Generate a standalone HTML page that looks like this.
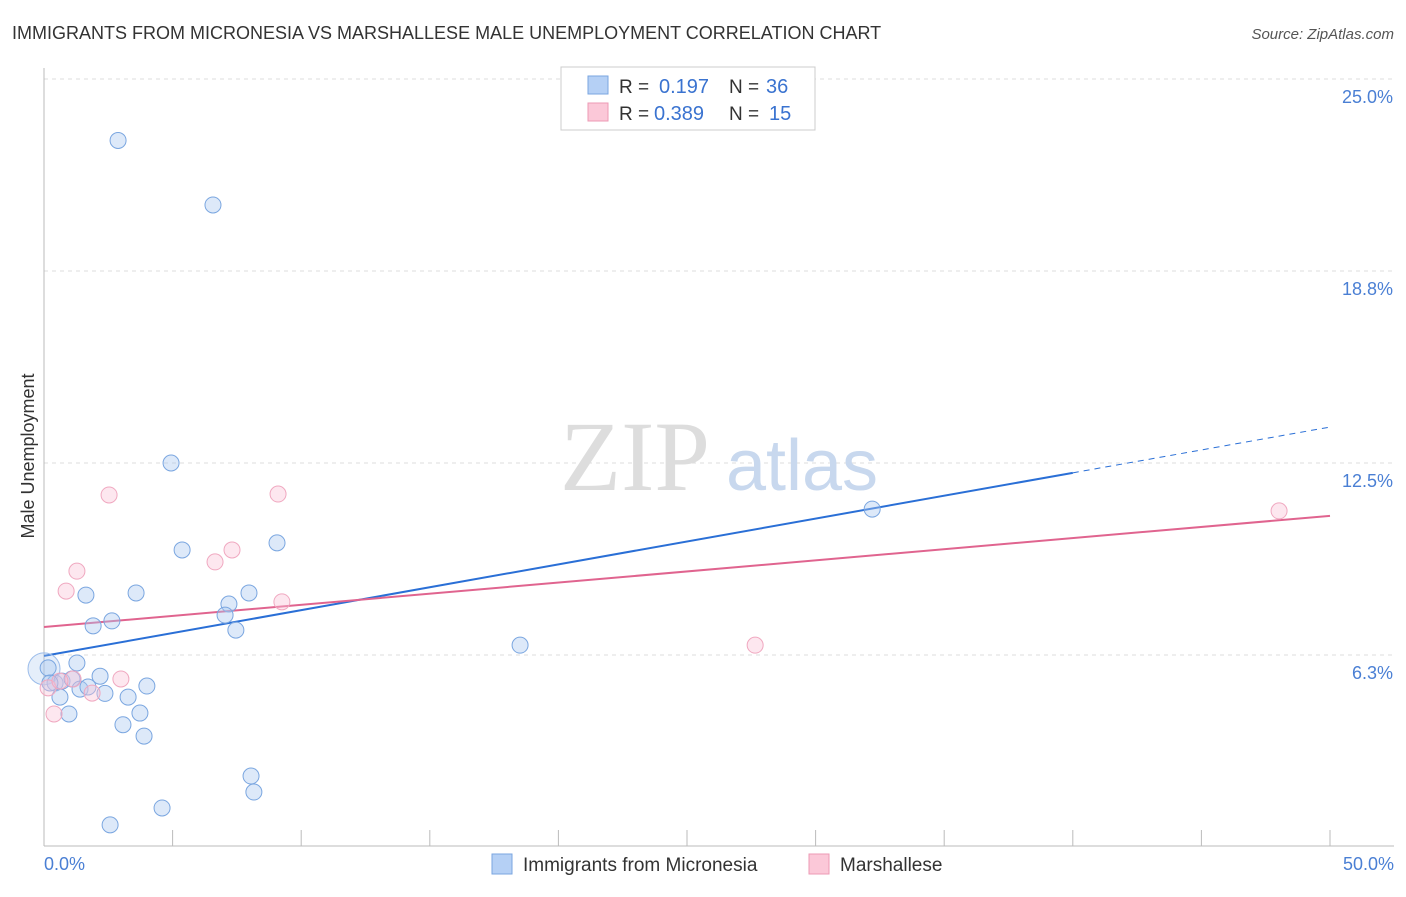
<!DOCTYPE html>
<html><head><meta charset="utf-8"><style>
body{margin:0;background:#fff;font-family:"Liberation Sans",sans-serif}
</style></head><body>
<svg width="1406" height="892" xmlns="http://www.w3.org/2000/svg" font-family="Liberation Sans, sans-serif">
<text x="12" y="39" font-size="18" fill="#333">IMMIGRANTS FROM MICRONESIA VS MARSHALLESE MALE UNEMPLOYMENT CORRELATION CHART</text>
<text x="1394" y="39" font-size="15" fill="#555" font-style="italic" text-anchor="end">Source: ZipAtlas.com</text>
<g id="grid"></g>
<g><text x="635" y="490" font-size="100" fill="#ddd" style="font-family:'Liberation Serif',serif" text-anchor="middle">ZIP</text><text x="802" y="490" font-size="72" fill="#c8d8ee" text-anchor="middle">atlas</text></g>
<line x1="44" y1="68" x2="44" y2="846" stroke="#bbb"/>
<line x1="44" y1="846" x2="1394" y2="846" stroke="#bbb"/>
<text transform="translate(34,456) rotate(-90)" font-size="18" fill="#333" text-anchor="middle">Male Unemployment</text>
<text x="44" y="870" font-size="18" fill="#4a7fd4">0.0%</text>
<text x="1394" y="870" font-size="18" fill="#4a7fd4" text-anchor="end">50.0%</text>
<g id="lines"></g>
<g id="points"></g>
<g>
<rect x="561" y="67" width="254" height="63" fill="#fff" stroke="#ccc"/>
<rect x="588" y="76" width="20" height="18" fill="#b5d0f5" stroke="#7aa6e0"/>
<rect x="588" y="103" width="20" height="18" fill="#fbc8d8" stroke="#ec9ab5"/>
<text x="619" y="93" font-size="19" fill="#333">R =</text>
<text x="659" y="93" font-size="20" fill="#3a73d0">0.197</text>
<text x="729" y="93" font-size="19" fill="#333">N =</text>
<text x="766" y="93" font-size="20" fill="#3a73d0">36</text>
<text x="619" y="120" font-size="19" fill="#333">R =</text>
<text x="654" y="120" font-size="20" fill="#3a73d0">0.389</text>
<text x="729" y="120" font-size="19" fill="#333">N =</text>
<text x="769" y="120" font-size="20" fill="#3a73d0">15</text>
</g>
<g>
<rect x="492" y="854" width="20" height="20" fill="#b5d0f5" stroke="#7aa6e0"/>
<text x="523" y="871" font-size="19" fill="#333">Immigrants from Micronesia</text>
<rect x="809" y="854" width="20" height="20" fill="#fbc8d8" stroke="#ec9ab5"/>
<text x="840" y="871" font-size="19" fill="#333">Marshallese</text>
</g>
</svg>
<script>
const yTicks=[25.0,18.8,12.5,6.3];
const yTickVals=[25,18.75,12.5,6.25];
const xTickVals=[0,5,10,15,20,25,30,35,40,45,50];
const blueX=[2.88,6.57,4.94,5.37,9.06,1.63,3.58,7.97,7.19,7.04,2.64,1.91,7.46,18.51,32.2,1.28,0.16,0.43,0.70,1.09,1.40,2.18,2.37,3.27,4.0,0.62,0.97,3.73,3.07,3.89,8.05,8.16,4.59,2.57,0.23,1.71];
const blueY=[23.0,20.9,12.5,9.67,9.9,8.2,8.27,8.27,7.91,7.55,7.36,7.2,7.06,6.57,11.0,5.99,5.83,5.34,5.4,5.47,5.14,5.56,5.0,4.88,5.24,4.88,4.33,4.36,3.98,3.61,2.31,1.79,1.27,0.72,5.34,5.21];
const pinkX=[2.53,9.1,7.31,6.65,1.28,0.86,9.25,2.99,1.87,1.13,0.39,27.65,48.02,0.16,0.62];
const pinkY=[11.46,11.49,9.67,9.28,8.98,8.33,7.98,5.47,5.01,5.47,4.33,6.57,10.94,5.18,5.4];
const blueTrend=[6.22,13.67], pinkTrend=[7.16,10.78];
const NS="http://www.w3.org/2000/svg";
const X=v=>44+v*25.72, Y=v=>847-v*30.72;
function mk(t,a,p){const e=document.createElementNS(NS,t);for(const k in a)e.setAttribute(k,a[k]);p.appendChild(e);return e;}
const grid=document.getElementById('grid');
yTickVals.forEach((v,i)=>{
 const l=mk('line',{x1:44,x2:1394,y1:Y(v),y2:Y(v),stroke:'#ddd','stroke-dasharray':'4,4'},grid);
 
 
 const t=mk('text',{x:1393,y:Y(v)+24,'font-size':18,fill:'#4a7fd4','text-anchor':'end'},grid);
 t.textContent=yTicks[i].toFixed(1)+'%';
 
 
});
xTickVals.forEach(v=>{
 const l=mk('line',{x1:X(v),x2:X(v),y1:830,y2:846,stroke:'#bbb'},grid);
 
 
});
const lines=document.getElementById('lines');
const bAt=x=>blueTrend[0]+(blueTrend[1]-blueTrend[0])*x/50;
let l=mk('line',{x1:X(0),y1:Y(bAt(0)),x2:X(40),y2:Y(bAt(40)),stroke:'#2a6fd6','stroke-width':2},lines);


l=mk('line',{x1:X(40),y1:Y(bAt(40)),x2:X(50),y2:Y(bAt(50)),stroke:'#2a6fd6','stroke-width':1,'stroke-dasharray':'6,5'},lines);


l=mk('line',{x1:X(0),y1:Y(pinkTrend[0]),x2:X(50),y2:Y(pinkTrend[1]),stroke:'#e0648f','stroke-width':2},lines);


const pts=document.getElementById('points');
const big=mk('circle',{cx:X(0),cy:Y(5.8),r:16,fill:'rgba(170,200,240,0.3)',stroke:'#9bbcea'},pts);


blueX.forEach((x,i)=>{
 const c=mk('circle',{cx:X(x),cy:Y(blueY[i]),r:8,fill:'rgba(170,200,240,0.4)',stroke:'#7aa6e0'},pts);
 
 
});
pinkX.forEach((x,i)=>{
 const c=mk('circle',{cx:X(x),cy:Y(pinkY[i]),r:8,fill:'rgba(250,195,215,0.4)',stroke:'#f0a8c0'},pts);
 
 
});
</script>
</body></html>
